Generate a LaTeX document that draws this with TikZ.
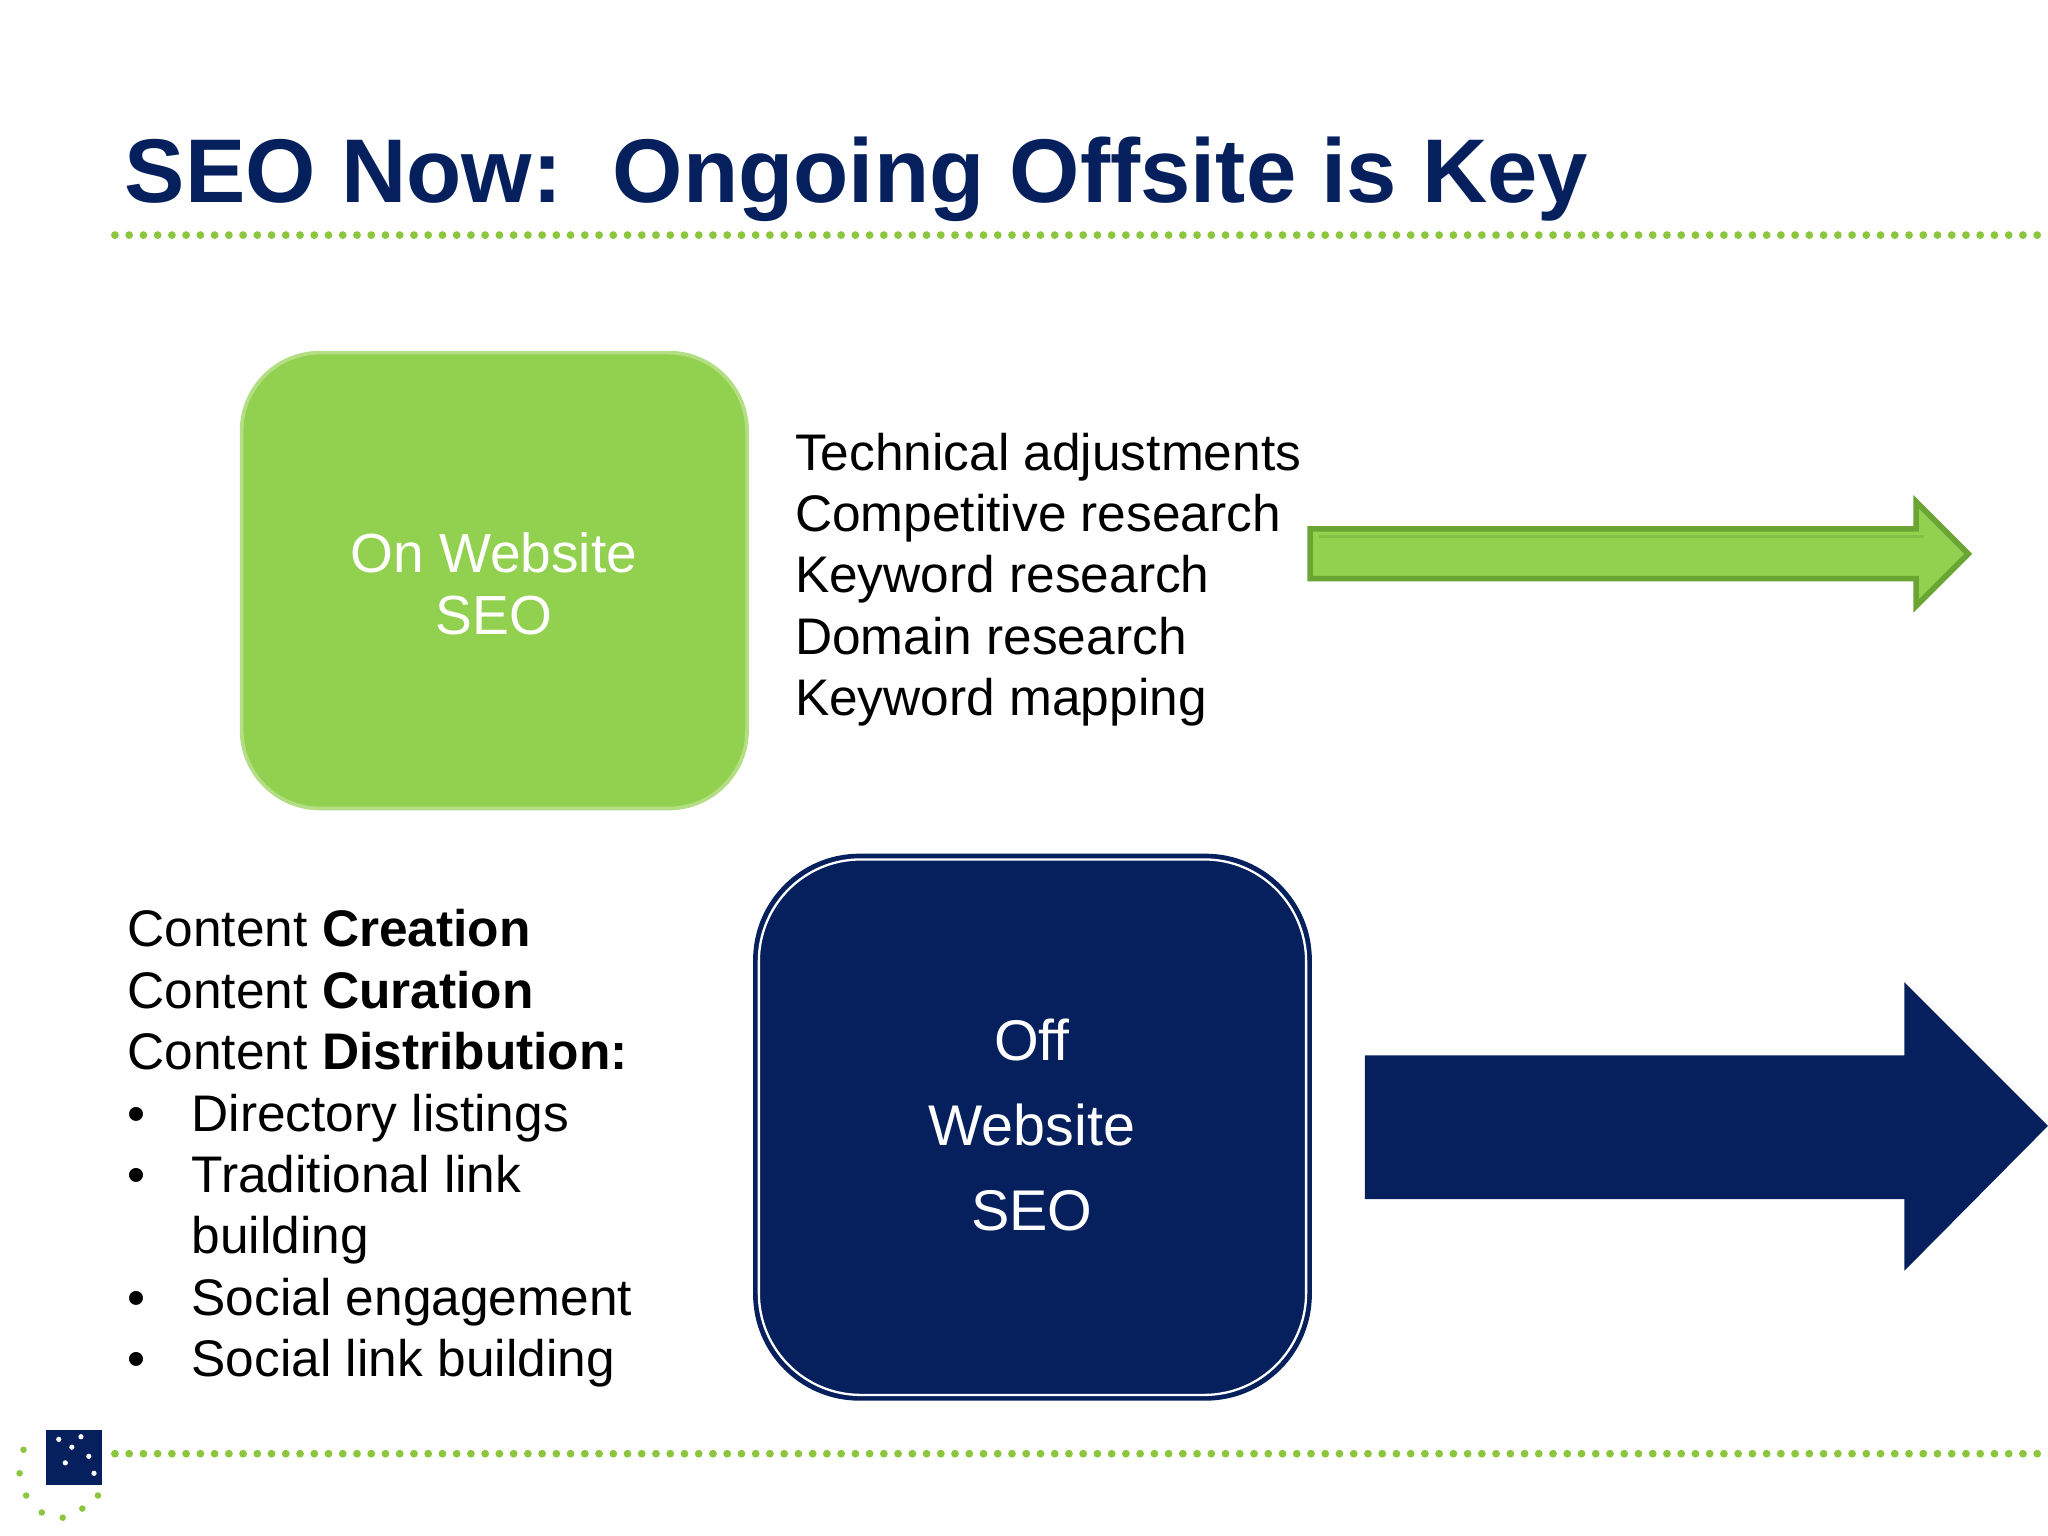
\documentclass[tikz,border=0pt]{standalone}
\usepackage{fontspec}
\setmainfont{Liberation Sans}
\definecolor{navy}{HTML}{06205E}
\definecolor{gfill}{HTML}{92D050}
\definecolor{gdark}{HTML}{6AA534}
\definecolor{gdot}{HTML}{8CC63F}
\begin{document}
\begin{tikzpicture}[x=0.01cm,y=-0.01cm,
  body/.style={anchor=base west,inner sep=0,font=\fontsize{11.2pt}{13.4pt}\selectfont},
  dots/.style={gdot,line width=1.7pt,dash pattern=on 0pt off 3.1pt,line cap=round}]
\useasboundingbox (0,0) rectangle (1568,1176);
\node[anchor=base west,inner sep=0,text=navy,font=\fontsize{19.7pt}{22pt}\selectfont\bfseries] (title) at (95,155) {SEO Now:\ \ Ongoing Offsite is Key};
\coordinate (d1a) at (88,180); \coordinate (d1b) at (1562,180);
\draw[dots] (d1a) -- (d1b);
\coordinate (d2a) at (88,1113); \coordinate (d2b) at (1562,1113);
\draw[dots] (d2a) -- (d2b);
% green box
\draw[fill=gfill,draw=gfill!70!white,line width=0.8pt,rounded corners=0.6cm] (185,270) rectangle (572,619);
\node[text=white,align=center,font=\fontsize{12pt}{13.4pt}\selectfont] (on) at (378,447) {On Website\\SEO};
\foreach \t [count=\i] in {Technical adjustments,Competitive research,Keyword research,Domain research,Keyword mapping}
  \node[body] (t\i) at (608,{360+47*(\i-1)}) {\t};
\draw[fill=gfill,draw=gdark,line width=1.2pt] (1003,405) -- (1467,405) -- (1467,384) -- (1507,424) -- (1467,464) -- (1467,443) -- (1003,443) -- cycle;
\draw[gdark!40!gfill,line width=0.6pt] (1010,411) -- (1473,411);
% navy box
\draw[fill=navy,draw=navy,line width=0.8pt,rounded corners=0.8cm] (578,655) rectangle (1003,1071);
\draw[white,line width=0.5pt,rounded corners=0.78cm] (581,658) rectangle (1000,1068);
\foreach \t/\y in {Off/812,Website/877,SEO/942}
  \node[anchor=base,inner sep=0,text=white,font=\fontsize{12.5pt}{15pt}\selectfont] at (790,\y) {\t};
\node[inner sep=0] (off) at (790,862) {};
\fill[navy] (1045,808) -- (1458,808) -- (1458,752) -- (1568,862) -- (1458,973) -- (1458,918) -- (1045,918) -- cycle;
% left text
\node[body] (c1) at (97,725) {Content \textbf{Creation}};
\node[body] (c2) at (97,772) {Content \textbf{Curation}};
\node[body] (c3) at (97,819) {Content \textbf{Distribution:}};
\foreach \t/\y in {Directory listings/866,Traditional link/913,Social engagement/1007,Social link building/1054}
  { \node[body] at (97,\y) {\textbullet}; \node[body] at (146,\y) {\t}; }
\node[body] at (146,960) {building};
% logo
\fill[navy] (35,1095) rectangle (78,1137);
\foreach \p in {(45,1102),(55,1108),(62,1100),(68,1115),(50,1120),(72,1128)}
  \fill[white] \p circle (2);
\foreach \p in {(18,1110),(15,1128),(20,1145),(32,1158),(48,1162),(63,1155),(75,1145)}
  \fill[gdot] \p circle (2.5);
\end{tikzpicture}
\end{document}
